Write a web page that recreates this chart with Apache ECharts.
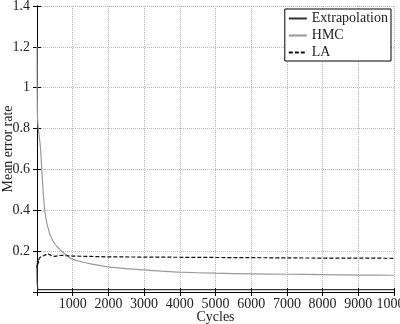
<!DOCTYPE html>
<html>
<head>
<meta charset="utf-8">
<script src="https://cdn.jsdelivr.net/npm/echarts@6/dist/echarts.min.js"></script>
<style>html,body{margin:0;padding:0;background:#fff;}#c{width:400px;height:324px;}</style>
</head>
<body>
<div id="c"></div>
<script>
var xTicks = [0, 1000, 2000, 3000, 4000, 5000, 6000, 7000, 8000, 9000, 10000];
var yTicks = [0, 0.2, 0.4, 0.6, 0.8, 1, 1.2, 1.4];

var extrapCycles = [0, 5, 20, 10000];
var extrapValues = [0.13, 0.05, 0.012, 0.012];

var hmcCycles = [0, 10, 25, 50, 100, 150, 200, 250, 300, 350, 400, 500, 600, 700, 850, 1000, 1250, 1500, 2000, 2500, 3000, 3500, 4000, 5000, 6000, 7000, 8000, 9000, 10000];
var hmcValues = [1.2, 0.88, 0.82, 0.78, 0.70, 0.55, 0.43, 0.36, 0.32, 0.29, 0.265, 0.235, 0.215, 0.198, 0.177, 0.160, 0.148, 0.138, 0.123, 0.114, 0.108, 0.102, 0.097, 0.092, 0.089, 0.087, 0.085, 0.083, 0.082];

var laCycles = [0, 10, 20, 30, 40, 60, 80, 100, 130, 160, 200, 250, 300, 350, 400, 450, 500, 600, 700, 800, 1000, 1500, 2000, 3000, 4000, 5000, 6000, 7000, 8000, 9000, 10000];
var laValues = [0.12, 0.15, 0.13, 0.16, 0.14, 0.165, 0.17, 0.16, 0.175, 0.17, 0.178, 0.183, 0.188, 0.182, 0.178, 0.172, 0.174, 0.178, 0.18, 0.178, 0.176, 0.174, 0.172, 0.171, 0.170, 0.169, 0.168, 0.167, 0.166, 0.166, 0.165];

function pairs(xs, ys) { return xs.map(function (x, i) { return [x, ys[i]]; }); }

var FONT = 'Liberation Serif';
var chart = echarts.init(document.getElementById('c'));
chart.setOption({
  animation: false,
  backgroundColor: '#fff',
  textStyle: { fontFamily: FONT },
  grid: { left: 37, right: 6, top: 6, bottom: 32, show: false, containLabel: false, outerBoundsMode: 'none' },
  legend: {
    orient: 'vertical', right: 9, top: 9,
    backgroundColor: '#fff', borderColor: '#000', borderWidth: 1, borderRadius: 0,
    padding: [2, 3, 1, 3], itemWidth: 18, itemHeight: 10, itemGap: 2,
    itemStyle: { opacity: 0 },
    textStyle: { fontFamily: FONT, fontSize: 14, color: '#222', lineHeight: 15 },
    data: ['Extrapolation', 'HMC', 'LA']
  },
  xAxis: [{
    type: 'value', min: 0, max: 10000, interval: 1000,
    name: 'Cycles', nameLocation: 'middle', nameGap: 18, nameMoveOverlap: false,
    nameTextStyle: { fontFamily: FONT, fontSize: 14, color: '#222' },
    axisLine: { show: true, lineStyle: { color: '#000', width: 1 } },
    axisTick: { show: true, inside: true, length: 4, lineStyle: { color: '#000' } },
    axisLabel: { showMinLabel: false, margin: 5, fontFamily: FONT, fontSize: 14, color: '#222',
      formatter: function (v) { return String(v); } },
    splitLine: { show: true, lineStyle: { type: 'dotted', color: '#bbb' } }
  }, {
    type: 'value', position: 'top', min: 0, max: 10000, interval: 1000,
    axisLine: { show: true, lineStyle: { color: '#000', width: 1 } },
    axisTick: { show: true, inside: true, length: 4, lineStyle: { color: '#000' } },
    axisLabel: { show: false }, splitLine: { show: false }
  }],
  yAxis: [{
    type: 'value', min: 0, max: 1.4, interval: 0.2,
    name: 'Mean error rate', nameLocation: 'middle', nameGap: 22, nameMoveOverlap: false,
    nameTextStyle: { fontFamily: FONT, fontSize: 14, color: '#222' },
    axisLine: { show: true, lineStyle: { color: '#000', width: 1 } },
    axisTick: { show: true, inside: true, length: 4, lineStyle: { color: '#000' } },
    axisLabel: { showMinLabel: false, margin: 7, fontFamily: FONT, fontSize: 14, color: '#222',
      formatter: function (v) { return String(Math.round(v * 10) / 10); } },
    splitLine: { show: true, lineStyle: { type: 'dotted', color: '#bbb' } }
  }, {
    type: 'value', position: 'right', min: 0, max: 1.4, interval: 0.2,
    axisLine: { show: true, lineStyle: { color: '#000', width: 1 } },
    axisTick: { show: true, inside: true, length: 4, lineStyle: { color: '#000' } },
    axisLabel: { show: false }, splitLine: { show: false }
  }],
  series: [{
    name: 'Extrapolation', type: 'line', symbol: 'none',
    data: pairs(extrapCycles, extrapValues),
    lineStyle: { color: '#333', width: 1.2 }, itemStyle: { color: '#333' }
  }, {
    name: 'HMC', type: 'line', symbol: 'none', smooth: 0.3,
    data: pairs(hmcCycles, hmcValues),
    lineStyle: { color: '#999', width: 1.2 }, itemStyle: { color: '#999' }
  }, {
    name: 'LA', type: 'line', symbol: 'none',
    data: pairs(laCycles, laValues),
    lineStyle: { color: '#111', width: 1.2, type: [4, 2] }, itemStyle: { color: '#111' }
  }]
});
</script>
</body>
</html>
